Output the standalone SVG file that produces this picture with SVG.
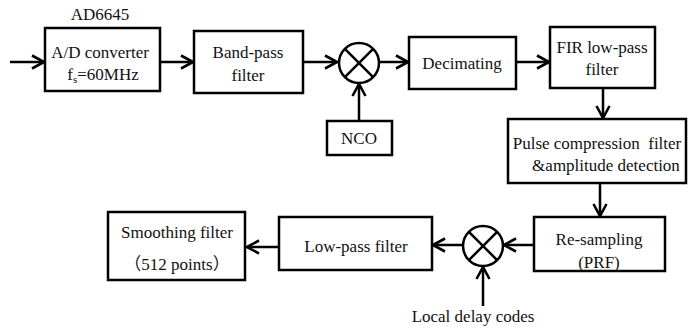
<svg xmlns="http://www.w3.org/2000/svg" width="688" height="331" viewBox="0 0 688 331" font-family="Liberation Serif, Noto Sans CJK SC, serif">
<defs>
<style>
.box{fill:#fff;stroke:#000;stroke-width:2.5}
.t{font-size:17px;fill:#111;text-anchor:middle}
.ln{stroke:#000;stroke-width:2.5;fill:none}
.mix{fill:#fff;stroke:#000;stroke-width:2.5}
</style>
<marker id="ah" viewBox="0 0 14 16" refX="13" refY="8" markerWidth="14" markerHeight="16" markerUnits="userSpaceOnUse" orient="auto">
<path d="M1,1.5 L13,8 L1,14.5" fill="none" stroke="#000" stroke-width="2.6"/>
</marker>
</defs>
<g id="connectors">
<line class="ln" x1="10" y1="62" x2="44" y2="62" marker-end="url(#ah)"/>
<line class="ln" x1="160" y1="62" x2="193" y2="62" marker-end="url(#ah)"/>
<line class="ln" x1="303" y1="62" x2="337" y2="62" marker-end="url(#ah)"/>
<line class="ln" x1="359" y1="121" x2="359" y2="84" marker-end="url(#ah)"/>
<line class="ln" x1="379" y1="62" x2="408" y2="62" marker-end="url(#ah)"/>
<line class="ln" x1="516" y1="62" x2="549" y2="62" marker-end="url(#ah)"/>
<line class="ln" x1="603" y1="88" x2="603" y2="118" marker-end="url(#ah)"/>
<line class="ln" x1="600" y1="183" x2="600" y2="216" marker-end="url(#ah)"/>
<line class="ln" x1="534" y1="245" x2="504" y2="245" marker-end="url(#ah)"/>
<line class="ln" x1="463" y1="245" x2="433" y2="245" marker-end="url(#ah)"/>
<line class="ln" x1="483" y1="306" x2="483" y2="267" marker-end="url(#ah)"/>
<line class="ln" x1="279" y1="247" x2="247" y2="247" marker-end="url(#ah)"/>
</g>
<g id="ad">
<text class="t" x="100" y="20">AD6645</text>
<rect class="box" x="45" y="28" width="115" height="63"/>
<text class="t" x="100" y="58">A/D converter</text>
<text class="t" x="103" y="80">f<tspan font-size="11" dy="3">s</tspan><tspan dy="-3">=60MHz</tspan></text>
</g>
<g id="bandpass">
<rect class="box" x="194" y="31" width="109" height="62"/>
<text class="t" x="248" y="58">Band-pass</text>
<text class="t" x="248" y="81">filter</text>
</g>
<g id="mixer1">
<circle class="mix" cx="359" cy="63" r="20"/>
<line class="ln" x1="344.9" y1="48.9" x2="373.1" y2="77.1"/>
<line class="ln" x1="373.1" y1="48.9" x2="344.9" y2="77.1"/>
</g>
<g id="nco">
<rect class="box" x="327" y="121" width="65" height="34"/>
<text class="t" x="359" y="144">NCO</text>
</g>
<g id="decimating">
<rect class="box" x="409" y="37" width="107" height="52"/>
<text class="t" x="462" y="69">Decimating</text>
</g>
<g id="fir">
<rect class="box" x="550" y="27" width="105" height="61"/>
<text class="t" x="602" y="53">FIR low-pass</text>
<text class="t" x="602" y="75">filter</text>
</g>
<g id="pulse">
<rect class="box" x="508" y="119" width="178" height="64"/>
<text class="t" x="597" y="149" xml:space="preserve">Pulse compression  filter</text>
<text class="t" x="606" y="171">&amp;amplitude detection</text>
</g>
<g id="resampling">
<rect class="box" x="534" y="217" width="131" height="54"/>
<text class="t" x="599" y="245">Re-sampling</text>
<text class="t" x="599" y="268">(PRF)</text>
</g>
<g id="mixer2">
<circle class="mix" cx="483" cy="246" r="20"/>
<line class="ln" x1="468.9" y1="231.9" x2="497.1" y2="260.1"/>
<line class="ln" x1="497.1" y1="231.9" x2="468.9" y2="260.1"/>
</g>
<g id="localdelay">
<text class="t" x="473" y="322">Local delay codes</text>
</g>
<g id="lowpass">
<rect class="box" x="279" y="217" width="153" height="53"/>
<text class="t" x="356" y="252">Low-pass filter</text>
</g>
<g id="smoothing">
<rect class="box" x="108" y="212" width="137" height="68"/>
<text class="t" x="177" y="238">Smoothing filter</text>
<text class="t" x="177" y="270">（512 points）</text>
</g>
</svg>
